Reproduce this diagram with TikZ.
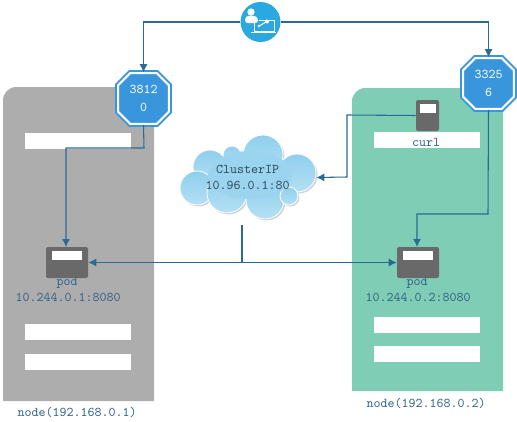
\documentclass[tikz,border=0pt]{standalone}
\usetikzlibrary{shapes.misc,arrows.meta}
\definecolor{linkblue}{HTML}{2A6A94}
\definecolor{textblue}{HTML}{2F6288}
\definecolor{cloudtext}{HTML}{2E4A5C}
\definecolor{octblue}{HTML}{3A96DC}
\definecolor{iconblue}{HTML}{29A9E0}
\definecolor{panelgray}{HTML}{ADADAD}
\definecolor{panelgreen}{HTML}{80CDB5}
\definecolor{podgray}{HTML}{696969}
\definecolor{cloudtop}{HTML}{8FCFEC}
\definecolor{cloudlow}{HTML}{B5E0F4}
\tikzset{
  bar/.style={fill=white,draw=white,inner sep=0,minimum width=79pt,minimum height=11.25pt},
  octa/.style={chamfered rectangle,chamfered rectangle angle=45,chamfered rectangle sep=4.5pt,
    draw=octblue,double=white,double distance=1.6pt,line width=1.4pt,fill=octblue,
    inner sep=0,minimum width=38pt,minimum height=38pt,text=white,align=center,
    font=\ttfamily\fontsize{10}{14}\selectfont},
  pod/.style={fill=podgray,rounded corners=1.5pt,inner sep=0,minimum width=31.5pt,minimum height=23.25pt},
  podbar/.style={fill=white,inner sep=0,minimum width=22.5pt,minimum height=6.75pt},
  lbl/.style={text=textblue,inner sep=0,font=\ttfamily\fontsize{10}{12}\selectfont},
  link/.style={draw=linkblue,line width=0.8pt},
  linkarrow/.style={link,-{Latex[length=6pt,width=6pt]}},
}
\begin{document}
\begin{tikzpicture}[x=0.75pt,y=-0.75pt]
\useasboundingbox (0,0) rectangle (517,421);

\fill[panelgray] (3,401) [rounded corners=10pt] -- (3,87) -- (154,87) [sharp corners] -- (154,401) -- cycle;
\fill[panelgreen] (352,391) [rounded corners=10pt] -- (352,88) -- (503,88) [sharp corners] -- (503,391) -- cycle;

\node[bar] (barl1) at (78,140.5) {};
\node[bar] (barl2) at (78,331.5) {};
\node[bar] (barl3) at (78,361.5) {};
\node[bar] (barr1) at (426.5,140) {};
\node[bar] (barr2) at (426.5,324.5) {};
\node[bar] (barr3) at (426.5,353.5) {};

\foreach \cx/\cy/\cr in {263/155/20,297/173/19,210/167/17,232/155/9,197/188/17,227/193/20,265/200/19,289/196/9} {
  \fill[black!18] (\cx+1.5,\cy+1.5) circle (\cr);
}
\foreach \cx/\cy/\cr in {263/155/20,210/167/17,232/155/9,297/173/19,197/188/17,227/193/20,265/200/19,289/196/9} {
  \shade[top color=cloudtop,bottom color=cloudlow,draw=white,line width=0.6pt] (\cx,\cy) circle (\cr);
}
\fill[cloudtop!70!cloudlow] (250,175) ellipse (42 and 24);
\node[inner sep=0,minimum width=103pt,minimum height=62pt,align=center,text=cloudtext,
  font=\ttfamily\fontsize{10}{12}\selectfont] (cloud) at (247.5,177.5) {ClusterIP\\10.96.0.1:80};

\node[circle,fill=iconblue,inner sep=0,minimum size=30pt] (admin) at (260.5,22) {};
\fill[white] (251,12) circle (3.6);
\fill[white,rounded corners=2pt] (245,23) -- (245,18) -- (248,15.5) -- (254,15.5) -- (258,18) -- (258,23) -- cycle;
\draw[white,line width=0.5pt] (254,21) -- (254,31) -- (274,31) -- (274,20) -- (259,20);
\draw[white,line width=0.5pt] (251,32) -- (276,32);
\fill[white] (267,21.5) circle (2);
\draw[white,line width=0.8pt] (267,21.5) -- (259,26);
\fill[white] (259,26) circle (1.4);

\node[octa] (octl) at (143.5,98.5) {3812\\0};
\node[octa] (octr) at (488.5,83.5) {3325\\6};

\node[pod] (podl) at (67,262.5) {};
\node[podbar] at (67,255.5) {};
\node[pod] (podr) at (418,262.5) {};
\node[podbar] at (418,255.5) {};
\node[pod,minimum width=17.25pt,minimum height=23.25pt] (curl) at (427.5,115.5) {};
\node[podbar,minimum width=12pt] at (427.5,108.5) {};

\node[lbl] (lcurl) at (426,142.5) {curl};
\node[lbl] (lpodl) at (67,283) {pod};
\node[lbl] (lipl) at (68,297) {10.244.0.1:8080};
\node[lbl] (lpodr) at (417,283) {pod};
\node[lbl] (lipr) at (418,297) {10.244.0.2:8080};
\node[lbl] (lnodel) at (77,412) {node(192.168.0.1)};
\node[lbl] (lnoder) at (426,403) {node(192.168.0.2)};

\draw[linkarrow] (admin.west) -| (octl.north);
\draw[linkarrow] (admin.east) -| (octr.north);
\draw[linkarrow] (octl.south) -- (144,148) -- (66,148) -- (66,247);
\draw[linkarrow] (octr.south) -- (488,214) -- (417,214) -- (417,247);
\draw[linkarrow] (curl.west) -- (347,115) -- (347,177) -- (cloud.east);
\coordinate (tap) at (242,225);
\coordinate (mid) at (242,262);
\draw[link] (tap) -- (mid);
\draw[link,{Latex[length=6pt,width=6pt]}-{Latex[length=6pt,width=6pt]}] (podl.east) -- (podr.west);
\end{tikzpicture}
\end{document}
